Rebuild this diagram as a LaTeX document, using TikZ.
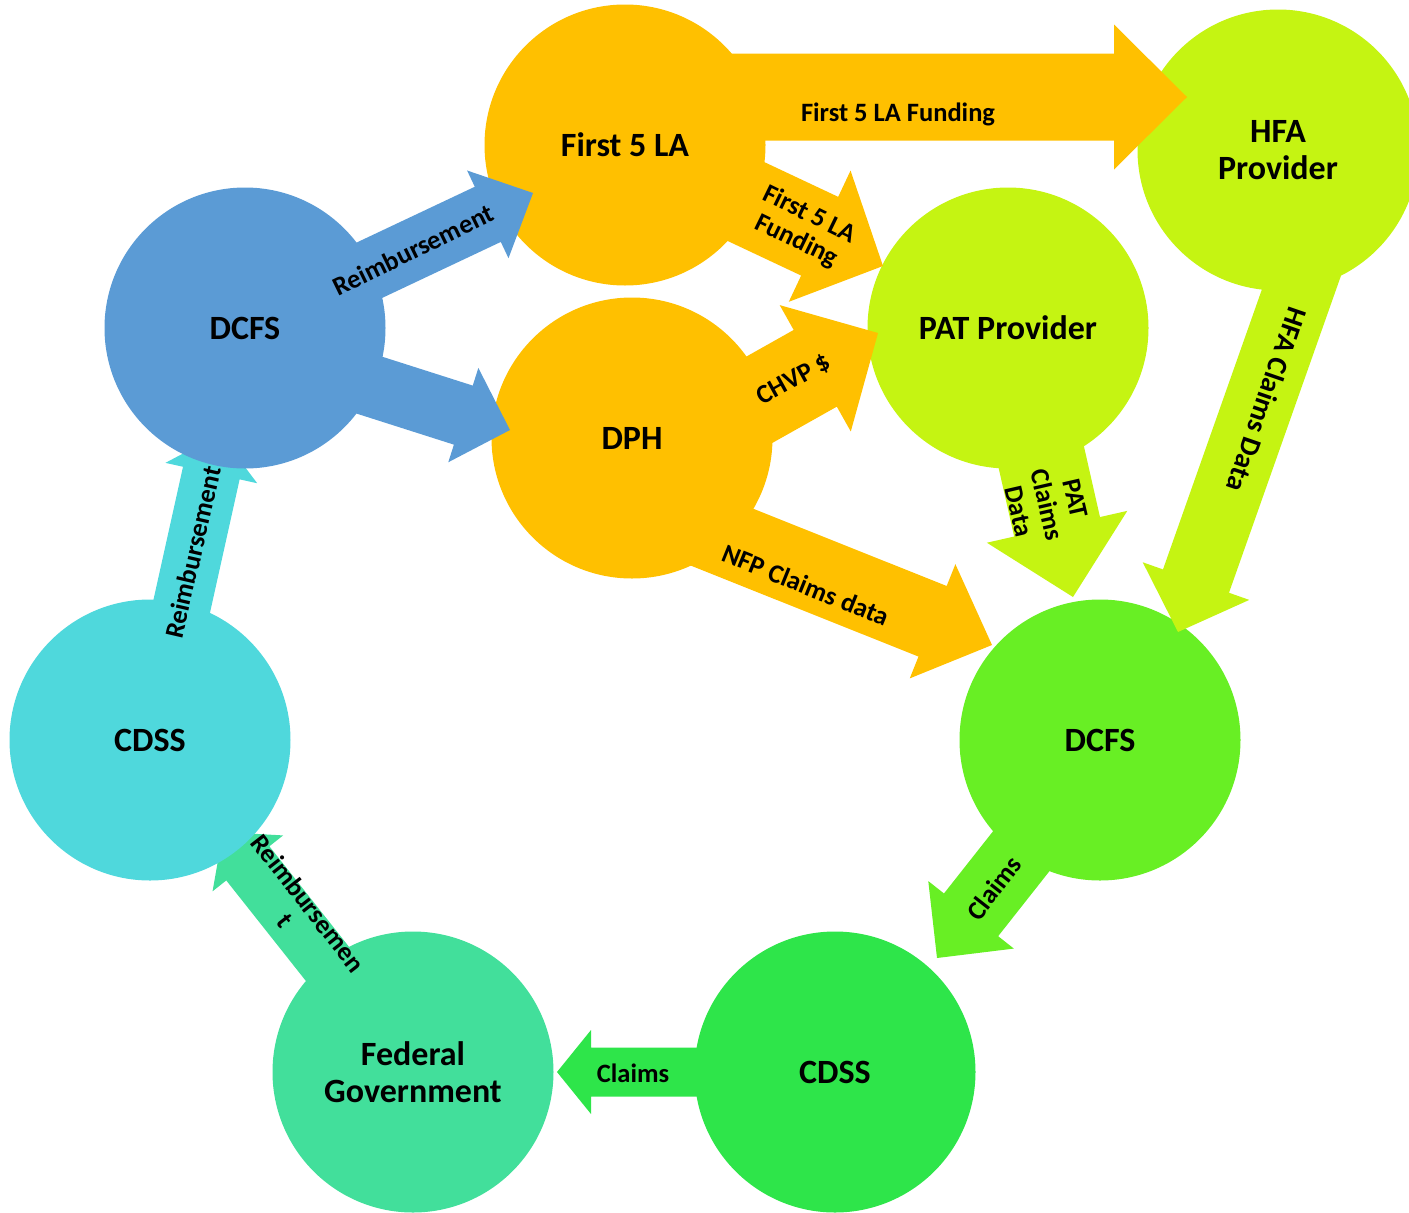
\documentclass[tikz,border=0pt]{standalone}
\usepackage{fontspec}
\setmainfont{Carlito}
\usetikzlibrary{calc}

\definecolor{dcfsblue}{RGB}{91,155,213}
\definecolor{amberfill}{RGB}{255,192,0}
\definecolor{limefill}{RGB}{197,244,18}
\definecolor{leaffill}{RGB}{104,239,36}
\definecolor{grassfill}{RGB}{46,229,74}
\definecolor{seafill}{RGB}{66,223,155}
\definecolor{aquafill}{RGB}{79,216,220}

% block arrow: colour, tail, tip, half shaft, half head, head length
\newcommand{\flowarrow}[6]{%
  \coordinate (hb) at ($(#3)!#6!(#2)$);
  \fill[#1] ($(#2)!#4!90:(#3)$) -- ($(hb)!#4!90:(#3)$) -- ($(hb)!#5!90:(#3)$) -- (#3)
    -- ($(hb)!#5!-90:(#3)$) -- ($(hb)!#4!-90:(#3)$) -- ($(#2)!#4!-90:(#3)$) -- cycle;
}

\begin{document}
\begin{tikzpicture}[x=1pt, y=-1pt,
  stage/.style={circle, fill=#1, minimum size=281pt, inner sep=0pt, align=center,
    font=\fontsize{34}{37}\selectfont\bfseries},
  flowlabel/.style={align=center, inner sep=0pt, font=\fontsize{26.5}{29}\selectfont\bfseries}]
\useasboundingbox (0,0) rectangle (1409,1213);

%centres
\coordinate (c-dcfsA) at (245,328);
\coordinate (c-first5) at (625,145);
\coordinate (c-dph) at (632,438);
\coordinate (c-hfa) at (1278,150);
\coordinate (c-pat) at (1008,328);
\coordinate (c-dcfsB) at (1100,740);
\coordinate (c-cdssB) at (835,1072);
\coordinate (c-fed) at (413,1072);
\coordinate (c-cdssA) at (150,740);

%arrow ends
\coordinate (a1t) at ($(c-dcfsA)+(55,-25)$);
\coordinate (a1h) at ($(c-first5)+(-92,48)$);
\coordinate (a2t) at ($(c-dcfsA)+(55,35)$);
\coordinate (a2h) at ($(c-dph)+(-122,-8)$);
\coordinate (a3t) at ($(c-first5)+(15,-48)$);
\coordinate (a3h) at ($(c-hfa)+(-91,-53)$);
\coordinate (a4t) at ($(c-first5)+(20,9)$);
\coordinate (a4h) at ($(c-pat)+(-125,-62)$);
\coordinate (a5t) at ($(c-dph)+(70,-6)$);
\coordinate (a5h) at ($(c-pat)+(-130,5)$);
\coordinate (a6t) at ($(c-dph)+(22,72)$);
\coordinate (a6h) at ($(c-dcfsB)+(-108,-95)$);
\coordinate (a7t) at ($(c-pat)+(16,53)$);
\coordinate (a7h) at ($(c-dcfsB)+(-27,-143)$);
\coordinate (a8t) at ($(c-hfa)+(42,80)$);
\coordinate (a8h) at ($(c-dcfsB)+(78,-108)$);
\coordinate (a9t) at ($(c-dcfsB)+(-36,57)$);
\coordinate (a9h) at ($(c-cdssB)+(102,-114)$);
\coordinate (a10t) at ($(c-cdssB)+(-75,0)$);
\coordinate (a10h) at ($(c-fed)+(144,0)$);
\coordinate (a11t) at ($(c-fed)+(-72,-91)$);
\coordinate (a11h) at ($(c-cdssA)+(73,92)$);
\coordinate (a12t) at ($(c-cdssA)+(18,-72)$);
\coordinate (a12h) at ($(c-dcfsA)+(-25,106)$);

%back to front
\flowarrow{seafill}{a11t}{a11h}{27.5pt}{45pt}{40pt}
\flowarrow{aquafill}{a12t}{a12h}{29pt}{47pt}{40pt}
\node[stage=aquafill] (cdssA) at (c-cdssA) {CDSS};
\node[stage=seafill] (fed) at (c-fed) {Federal\\Government};
\flowarrow{grassfill}{a10t}{a10h}{24.5pt}{42pt}{34pt}
\node[stage=grassfill] (cdssB) at (c-cdssB) {CDSS};
\flowarrow{leaffill}{a9t}{a9h}{34.5pt}{54.5pt}{55pt}
\node[stage=leaffill] (dcfsB) at (c-dcfsB) {DCFS};
\flowarrow{amberfill}{a6t}{a6h}{38pt}{61.5pt}{64pt}
\flowarrow{limefill}{a7t}{a7h}{44pt}{72pt}{72pt}
\flowarrow{limefill}{a8t}{a8h}{35pt}{56.5pt}{54pt}
\node[stage=limefill] (pat) at (c-pat) {PAT Provider};
\node[stage=limefill] (hfa) at (c-hfa) {HFA\\Provider};
\flowarrow{amberfill}{a3t}{a3h}{43.5pt}{72.5pt}{73pt}
\flowarrow{amberfill}{a4t}{a4h}{43.5pt}{72.5pt}{70pt}
\flowarrow{amberfill}{a5t}{a5h}{44pt}{72.5pt}{72pt}
\node[stage=amberfill] (first5) at (c-first5) {First 5 LA};
\node[stage=amberfill] (dph) at (c-dph) {DPH};
\flowarrow{dcfsblue}{a1t}{a1h}{30.5pt}{48.5pt}{50pt}
\flowarrow{dcfsblue}{a2t}{a2h}{31pt}{49.5pt}{49pt}
\node[stage=dcfsblue] (dcfsA) at (c-dcfsA) {DCFS};

%labels
\node[flowlabel, rotate=26] (l1) at (413,250) {Reimbursement};
\node[flowlabel] (l3) at (898,114) {First 5 LA Funding};
\node[flowlabel, rotate=-26] (l4) at (803,228) {First 5 LA\\Funding};
\node[flowlabel, rotate=29] (l5) at (794,380) {CHVP \$};
\node[flowlabel, rotate=-22] (l6) at (806,585) {NFP Claims data};
\node[flowlabel, rotate=-77] (l7) at (1047,505) {PAT\\Claims\\Data};
\node[flowlabel, rotate=-109, font=\fontsize{28.5}{31}\selectfont\bfseries] (l8) at (1267,400) {HFA Claims Data};
\node[flowlabel, rotate=52] (l9) at (994,888) {Claims};
\node[flowlabel] (l10) at (633,1073) {Claims};
\node[flowlabel, rotate=-52] (l11) at (297,912) {Reimbursemen\\t};
\node[flowlabel, rotate=77] (l12) at (193,552) {Reimbursement};
\end{tikzpicture}
\end{document}
